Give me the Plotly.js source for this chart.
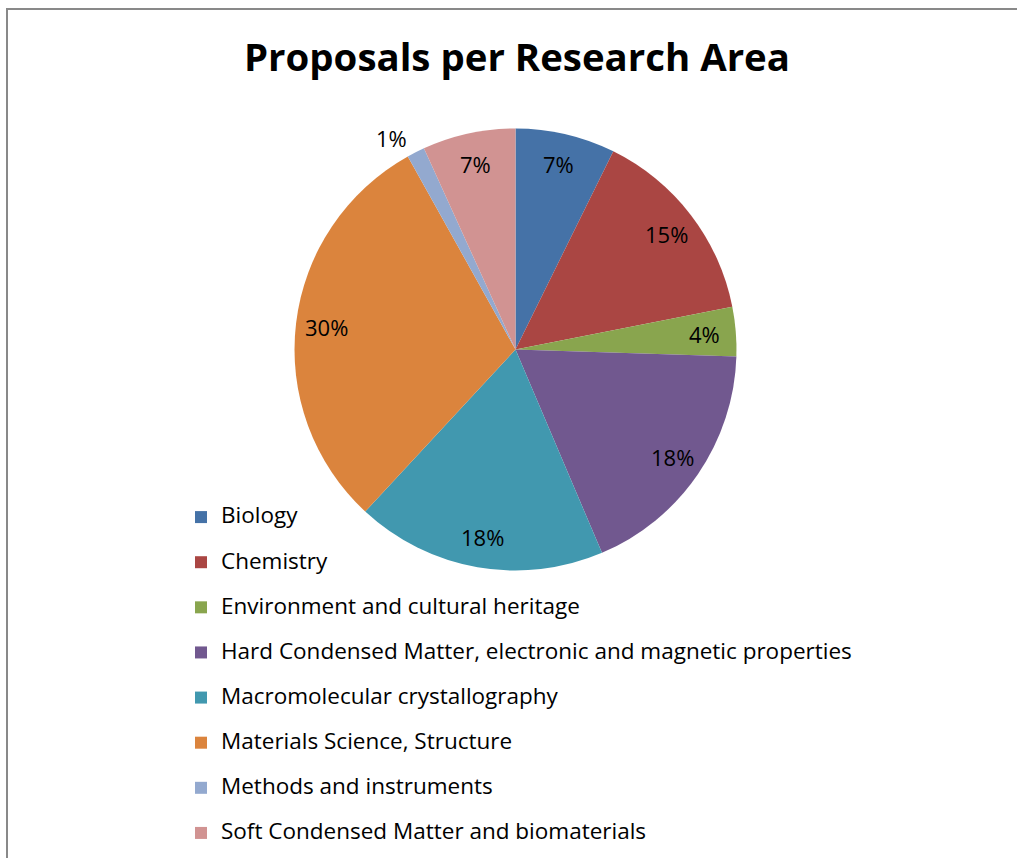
<!DOCTYPE html>
<html><head><meta charset="utf-8">
<script src="https://cdn.plot.ly/plotly-3.0.1.min.js"></script>
<style>
html,body{margin:0;padding:0;overflow:hidden;background:#fff;}
#chart{width:1017px;height:858px;position:absolute;left:0;top:0;}
#frame{position:absolute;left:6px;top:8px;width:3000px;height:3000px;border-left:2.5px solid #898989;border-top:2.5px solid #898989;pointer-events:none;}
</style></head><body>
<div id="chart"></div><div id="frame"></div>
<script>
// ---- data ----
const categories = [
  'Biology',
  'Chemistry',
  'Environment and cultural heritage',
  'Hard Condensed Matter, electronic and magnetic properties',
  'Macromolecular crystallography',
  'Materials Science, Structure',
  'Methods and instruments',
  'Soft Condensed Matter and biomaterials'
];
const values = [7.3, 14.6, 3.6, 18.1, 18.3, 30.0, 1.3, 6.8];
const chartTitle = 'Proposals per Research Area';

// ---- style ----
const colors = ['#4572A7', '#AA4643', '#89A54E', '#71588F', '#4198AF', '#DB843D', '#93A9CF', '#D19392'];
const FONT = '"Open Sans", "Noto Sans", sans-serif';
const W = 1017, H = 858;
const cx = 515.5, cy = 349.5, R = 221;

const total = values.reduce((a, b) => a + b, 0);
const legendLabels = categories.map(c => ' <br><span style="font-size:22.5px">' + c + '</span>');

// percentage labels placed along each slice's mid-angle
const annotations = [];
let cum = 0;
values.forEach((v, i) => {
  const frac = v / total;
  const mid = (cum + frac / 2) * 2 * Math.PI;
  cum += frac;
  const pct = Math.round(frac * 100);
  const outside = frac < 0.02;
  const rl = outside ? 1.07 * R : 0.86 * R;
  const px = cx + rl * Math.sin(mid);
  const py = cy - rl * Math.cos(mid);
  annotations.push({
    x: px / W, y: 1 - py / H, xref: 'paper', yref: 'paper',
    text: pct + '%', showarrow: false,
    xanchor: outside ? (Math.sin(mid) < 0 ? 'right' : 'left') : 'center',
    yanchor: 'middle',
    font: {family: FONT, size: 22, color: '#000'}
  });
});

const trace = {
  type: 'pie',
  labels: legendLabels,
  values: values,
  sort: false,
  direction: 'clockwise',
  rotation: 0,
  textinfo: 'none',
  hoverinfo: 'none',
  marker: {colors: colors, line: {width: 0}},
  domain: {x: [(cx - R) / W, (cx + R) / W], y: [1 - (cy + R) / H, 1 - (cy - R) / H]}
};

const layout = {
  width: W, height: H,
  margin: {l: 0, r: 0, t: 0, b: 0, autoexpand: false},
  paper_bgcolor: '#fff',
  title: {
    text: '<b>' + chartTitle + '</b>',
    font: {family: FONT, size: 38.4, color: '#000'},
    x: 517 / W, xanchor: 'center', xref: 'container',
    y: 1 - 57.3 / H, yanchor: 'middle', yref: 'container'
  },
  showlegend: true,
  legend: {
    x: 181 / W, xanchor: 'left',
    y: 1 - 479 / H, yanchor: 'top',
    bgcolor: 'rgba(0,0,0,0)',
    borderwidth: 0,
    font: {family: FONT, size: 16.2, color: '#000'},
    valign: 'bottom',
    tracegroupgap: 0
  },
  annotations: annotations
};

Plotly.newPlot('chart', [trace], layout, {staticPlot: true, displayModeBar: false});
</script>
</body></html>
